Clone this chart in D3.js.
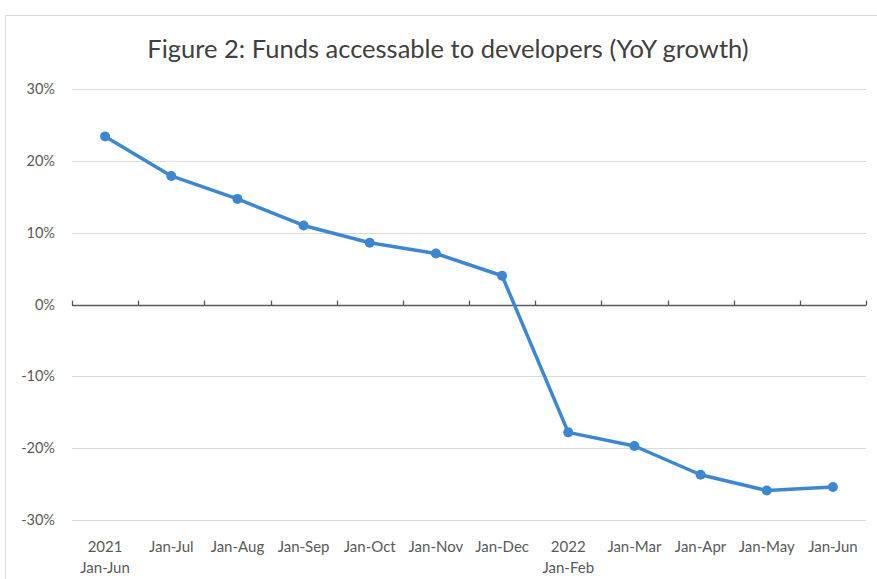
<!DOCTYPE html>
<html>
<head>
<meta charset="utf-8">
<script src="https://cdn.jsdelivr.net/npm/d3@7"></script>
<style>
  html, body { margin: 0; padding: 0; background: #fff; }
  svg { display: block; }
</style>
</head>
<body>
<svg id="chart" width="877" height="579"></svg>
<script>
// Category labels (two-line where the year starts)
const categories = [
  ["2021", "Jan-Jun"], ["Jan-Jul"], ["Jan-Aug"], ["Jan-Sep"], ["Jan-Oct"], ["Jan-Nov"],
  ["Jan-Dec"], ["2022", "Jan-Feb"], ["Jan-Mar"], ["Jan-Apr"], ["Jan-May"], ["Jan-Jun"]
];
// YoY growth of funds accessible to developers (%)
const growth = [23.4, 17.9, 14.7, 11.0, 8.6, 7.1, 4.0, -17.8, -19.7, -23.7, -25.9, -25.4];
const yTicks = [30, 20, 10, 0, -10, -20, -30];
const title = "Figure 2: Funds accessable to developers (YoY growth)";

(function draw() {
  const svg = d3.select("#chart");
  const font = "Lato, 'Open Sans', sans-serif";

  // outer chart frame
  svg.append("rect")
    .attr("x", 5.5).attr("y", 15.5).attr("width", 900).attr("height", 620)
    .attr("fill", "#fff").attr("stroke", "#d9d9d9").attr("stroke-width", 1);

  const plotLeft = 72, plotRight = 866, plotTop = 89, plotBottom = 520;
  const idx = d3.range(categories.length);
  const x = d3.scaleBand().domain(idx).range([plotLeft, plotRight]).paddingInner(0).paddingOuter(0);
  const y = d3.scaleLinear().domain([-30, 30]).range([plotBottom, plotTop]);

  // title
  svg.append("text")
    .attr("x", 448).attr("y", 58)
    .attr("text-anchor", "middle")
    .attr("font-family", font).attr("font-size", 25.5)
    .attr("fill", "#404040")
    .text(title);

  // gridlines
  svg.append("g").selectAll("line")
    .data(yTicks.filter(d => d !== 0))
    .join("line")
    .attr("x1", plotLeft).attr("x2", plotRight)
    .attr("y1", d => Math.round(y(d)) + 0.5).attr("y2", d => Math.round(y(d)) + 0.5)
    .attr("stroke", "#d9d9d9").attr("stroke-width", 1.2);

  // y-axis labels
  const yAxis = d3.axisLeft(y).tickValues(yTicks).tickSize(0).tickPadding(0)
    .tickFormat(d => d + "%");
  const gy = svg.append("g").attr("transform", "translate(55,0)").call(yAxis);
  gy.select(".domain").remove();
  gy.selectAll("text")
    .attr("font-family", font).attr("font-size", 14.5).attr("fill", "#595959");

  // category axis along zero line, ticks pointing up at category boundaries
  const zeroY = Math.round(y(0)) + 0.5;
  const gx = svg.append("g");
  gx.append("line")
    .attr("x1", plotLeft).attr("x2", plotRight).attr("y1", zeroY).attr("y2", zeroY)
    .attr("stroke", "#595959").attr("stroke-width", 1.3);
  const boundaries = idx.map(i => x(i)).concat([x(idx[idx.length - 1]) + x.bandwidth()]);
  gx.selectAll("line.tick")
    .data(boundaries)
    .join("line").attr("class", "tick")
    .attr("x1", d => Math.round(d) + 0.5).attr("x2", d => Math.round(d) + 0.5)
    .attr("y1", zeroY).attr("y2", zeroY - 5)
    .attr("stroke", "#595959").attr("stroke-width", 1.3);

  // category labels at bottom
  const labels = svg.append("g");
  categories.forEach((lines, i) => {
    const cx = x(i) + x.bandwidth() / 2;
    const t = labels.append("text")
      .attr("x", cx)
      .attr("y", 552)
      .attr("text-anchor", "middle")
      .attr("font-family", font).attr("font-size", 15).attr("fill", "#595959");
    lines.forEach((s, j) => {
      t.append("tspan")
        .attr("x", cx)
        .attr("dy", j === 0 ? 0 : 21)
        .text(s);
    });
  });

  // line series
  const color = "#3d87d2";
  const line = d3.line()
    .x((d, i) => x(i) + x.bandwidth() / 2)
    .y(d => y(d));
  svg.append("path")
    .datum(growth)
    .attr("d", line)
    .attr("fill", "none").attr("stroke", color)
    .attr("stroke-width", 3.5).attr("stroke-linejoin", "round");

  svg.append("g").selectAll("circle")
    .data(growth)
    .join("circle")
    .attr("cx", (d, i) => x(i) + x.bandwidth() / 2)
    .attr("cy", d => y(d))
    .attr("r", 5)
    .attr("fill", color);
})();
</script>
</body>
</html>
